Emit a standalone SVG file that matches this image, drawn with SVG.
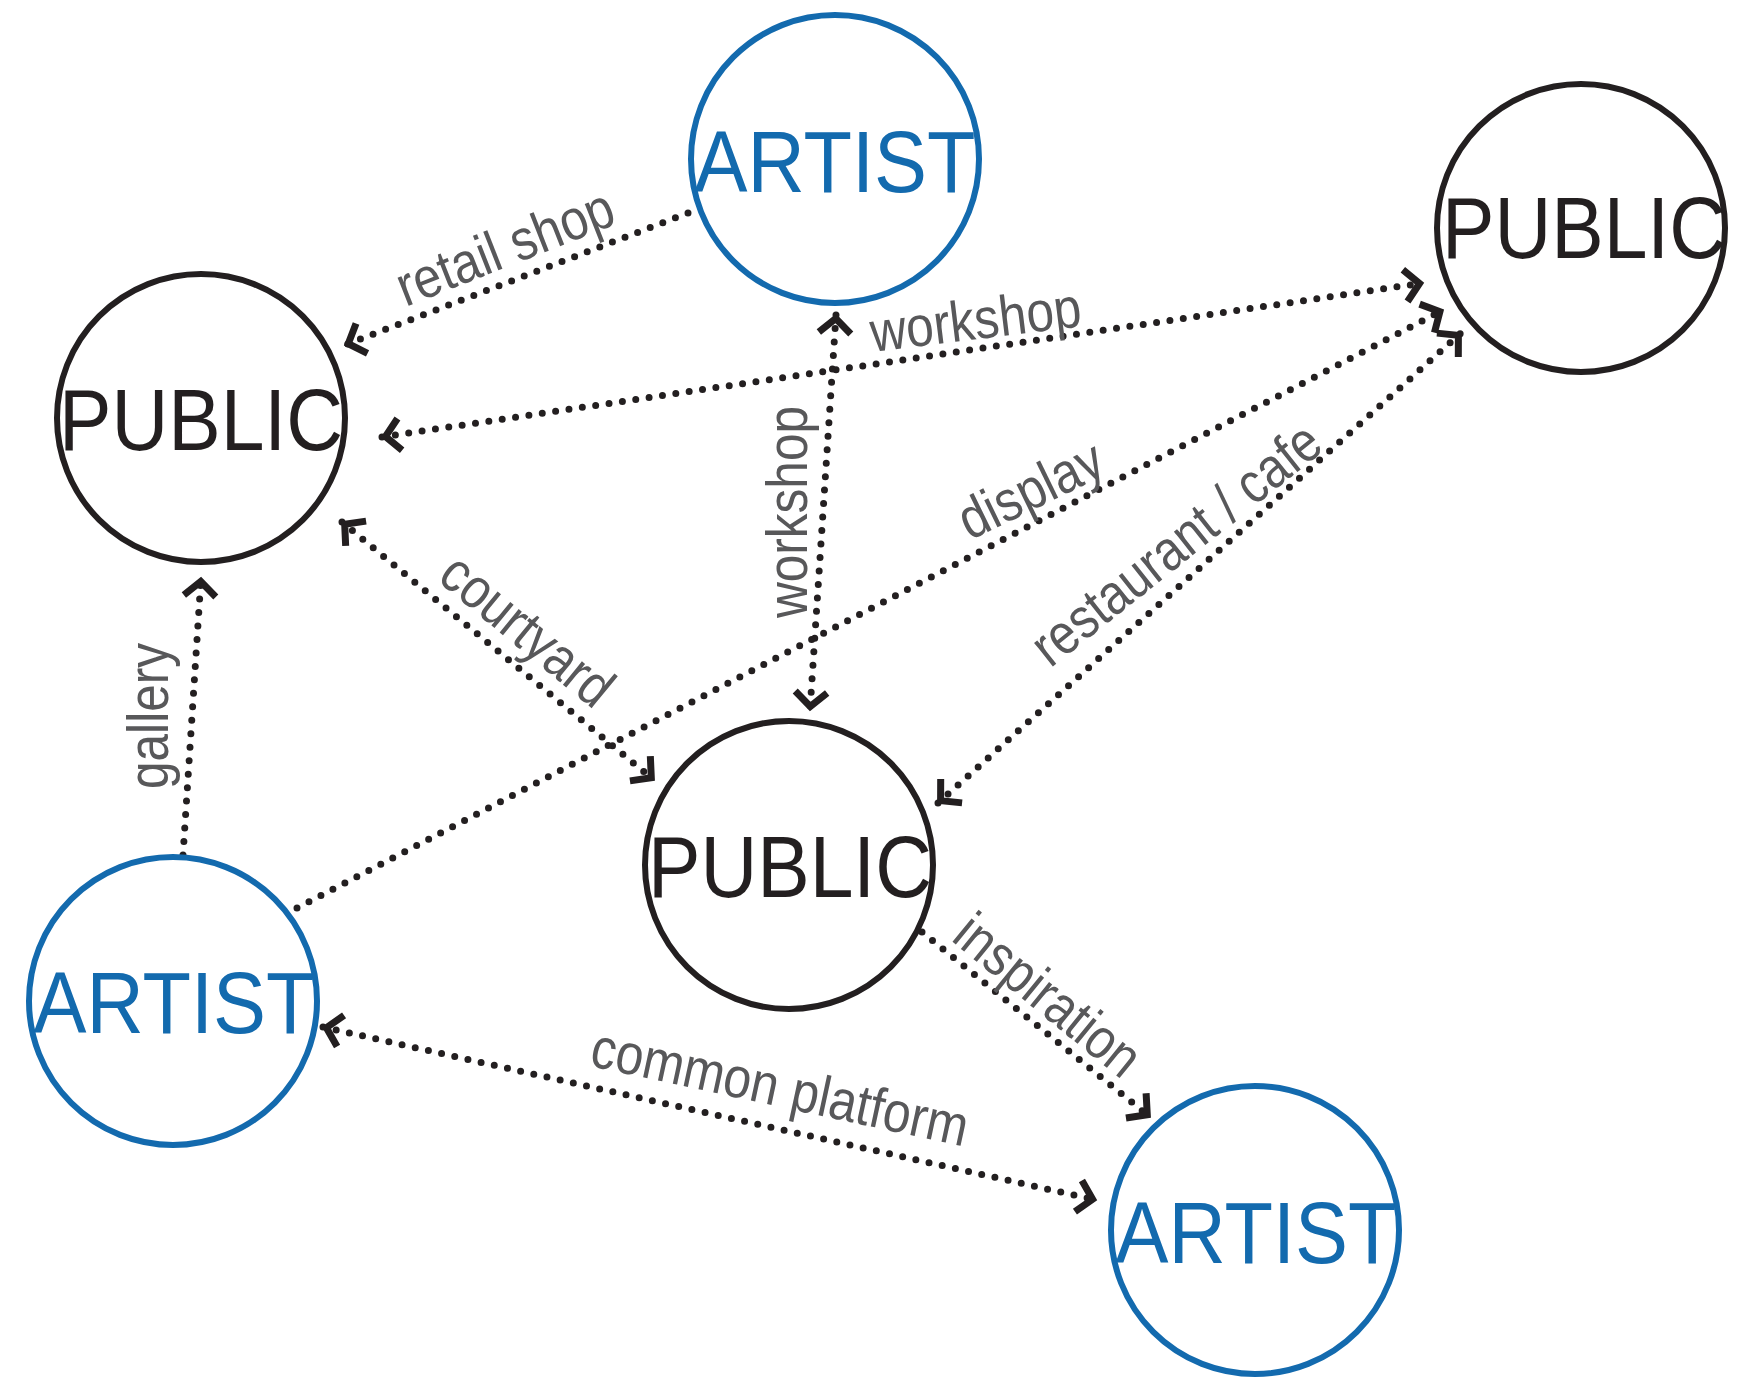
<svg xmlns="http://www.w3.org/2000/svg" width="1747" height="1394" viewBox="0 0 1747 1394">
<style>
.bg{fill:#ffffff}
.nodeA{fill:none;stroke:#136AAE;stroke-width:6}
.nodeP{fill:none;stroke:#231F20;stroke-width:6}
.tA{font-family:"Liberation Sans",Arial,sans-serif;font-size:88px;fill:#136AAE;text-anchor:middle}
.tP{font-family:"Liberation Sans",Arial,sans-serif;font-size:88px;fill:#231F20;text-anchor:middle}
.lbl{font-family:"Liberation Sans",Arial,sans-serif;font-size:57px;fill:#58585A;text-anchor:middle}
.edge{fill:none;stroke:#231F20;stroke-width:7;stroke-linecap:round;stroke-dasharray:0 13.5}
.one{marker-end:url(#chev)}
.two{marker-start:url(#chev);marker-end:url(#chev)}
</style>
<defs>
<marker id="chev" markerUnits="userSpaceOnUse" markerWidth="40" markerHeight="40" viewBox="-24 -20 30 40" refX="0" refY="0" orient="auto-start-reverse" overflow="visible">
<path d="M-18,-16 L-3.5,0 L-18,16" fill="none" stroke="#231F20" stroke-width="7" stroke-linejoin="miter"/>
</marker>
</defs>
<rect class="bg" x="0" y="0" width="1747" height="1394"/>
<g id="connectors">
<path id="e-retail" class="edge one" d="M688,213 L345,345"/>
<path id="e-workshop-h" class="edge two" d="M382,437 L1423,283"/>
<path id="e-workshop-v" class="edge two" d="M836,315 L810,710"/>
<path id="e-courtyard" class="edge two" d="M342,522 L654,780"/>
<path id="e-display" class="edge one" d="M297,908 L1443,310"/>
<path id="e-restaurant" class="edge two" d="M938,803 L1461,333"/>
<path id="e-gallery" class="edge one" d="M183,855 L201,578"/>
<path id="e-inspiration" class="edge one" d="M922,932 L1150,1117"/>
<path id="e-common" class="edge two" d="M323,1027 L1096,1200"/>
<text class="lbl" transform="translate(512,265) rotate(-21.5)" textLength="229" lengthAdjust="spacingAndGlyphs">retail shop</text>
<text class="lbl" transform="translate(978,339) rotate(-7)" textLength="212" lengthAdjust="spacingAndGlyphs">workshop</text>
<text class="lbl" transform="translate(807,512) rotate(-90)" textLength="212" lengthAdjust="spacingAndGlyphs">workshop</text>
<text class="lbl" transform="translate(515,645) rotate(39.5)" textLength="205" lengthAdjust="spacingAndGlyphs">courtyard</text>
<text class="lbl" transform="translate(1039,507) rotate(-26)" textLength="154" lengthAdjust="spacingAndGlyphs">display</text>
<text class="lbl" transform="translate(1188,559) rotate(-38.5)" textLength="352" lengthAdjust="spacingAndGlyphs">restaurant / cafe</text>
<text class="lbl" transform="translate(168,716) rotate(-90)" textLength="146" lengthAdjust="spacingAndGlyphs">gallery</text>
<text class="lbl" transform="translate(1036,1010) rotate(39.2)" textLength="222" lengthAdjust="spacingAndGlyphs">inspiration</text>
<text class="lbl" transform="translate(776,1106) rotate(12.2)" textLength="384" lengthAdjust="spacingAndGlyphs">common platform</text>
</g>
<g id="artist-top">
<circle class="nodeA" cx="835" cy="159" r="144"/>
<text class="tA" x="835" y="192" textLength="281" lengthAdjust="spacingAndGlyphs">ARTIST</text>
</g>
<g id="public-topright">
<circle class="nodeP" cx="1581" cy="228" r="144"/>
<text class="tP" x="1584" y="258" textLength="284" lengthAdjust="spacingAndGlyphs">PUBLIC</text>
</g>
<g id="public-left">
<circle class="nodeP" cx="201" cy="418" r="144"/>
<text class="tP" x="201" y="450" textLength="284" lengthAdjust="spacingAndGlyphs">PUBLIC</text>
</g>
<g id="public-center">
<circle class="nodeP" cx="789" cy="865" r="144"/>
<text class="tP" x="790" y="897" textLength="284" lengthAdjust="spacingAndGlyphs">PUBLIC</text>
</g>
<g id="artist-bottomleft">
<circle class="nodeA" cx="173" cy="1001" r="144"/>
<text class="tA" x="174" y="1033" textLength="281" lengthAdjust="spacingAndGlyphs">ARTIST</text>
</g>
<g id="artist-bottomright">
<circle class="nodeA" cx="1255" cy="1230" r="144"/>
<text class="tA" x="1256" y="1263" textLength="281" lengthAdjust="spacingAndGlyphs">ARTIST</text>
</g>
</svg>
